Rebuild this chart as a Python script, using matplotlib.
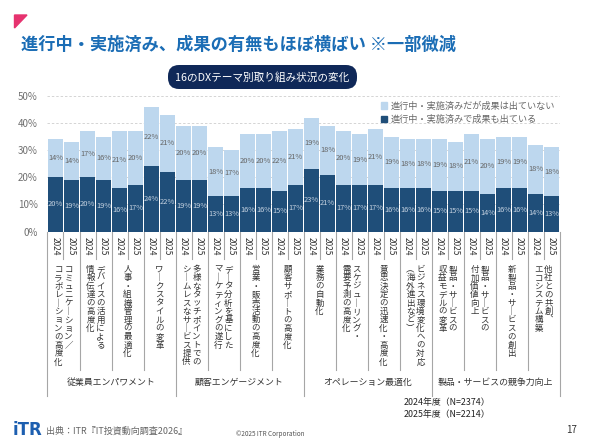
import matplotlib
matplotlib.use('Agg')
import matplotlib.pyplot as plt
import matplotlib.transforms as mtransforms
from matplotlib.patches import FancyBboxPatch, Polygon, Patch
from matplotlib.lines import Line2D

plt.rcParams['font.family'] = ['Noto Sans CJK JP', 'DejaVu Sans']

# ---------------- data ----------------
years = ['2024', '2025']
themes = [
    ['コミュニケーション／', 'コラボレーションの高度化'],
    ['デバイスの活用による', '情報伝達の高度化'],
    ['人事・組織管理の最適化'],
    ['ワークスタイルの変革'],
    ['多様なタッチポイントでの', 'シームレスなサービス提供'],
    ['データ分析を基にした', 'マーケティングの遂行'],
    ['営業・販売活動の高度化'],
    ['顧客サポートの高度化'],
    ['業務の自動化'],
    ['スケジューリング・', '需要予測の高度化'],
    ['意思決定の迅速化・高度化'],
    ['ビジネス環境変化への対応', '（海外進出など）'],
    ['製品・サービスの', '収益モデルの変革'],
    ['製品・サービスの', '付加価値向上'],
    ['新製品・サービスの創出'],
    ['他社との共創、', 'エコシステム構築'],
]
groups = ['従業員エンパワメント', '顧客エンゲージメント', 'オペレーション最適化', '製品・サービスの競争力向上']
group_sizes = [4, 4, 4, 4]

# per bar: theme order, 2024 then 2025
with_results = [20, 19, 20, 19, 16, 17, 24, 22, 19, 19, 13, 13, 16, 16, 15, 17,
                23, 21, 17, 17, 17, 16, 16, 16, 15, 15, 15, 14, 16, 16, 14, 13]
no_results = [14, 14, 17, 16, 21, 20, 22, 21, 20, 20, 18, 17, 20, 20, 22, 21,
              19, 18, 20, 19, 21, 19, 18, 18, 19, 18, 21, 20, 19, 19, 18, 18]
series_names = ['進行中・実施済みだが成果は出ていない', '進行中・実施済みで成果も出ている']
y_ticks = [0, 10, 20, 30, 40, 50]

title = '進行中・実施済み、成果の有無もほぼ横ばい ※一部微減'
subtitle = '16のDXテーマ別取り組み状況の変化'
notes = ['2024年度（N=2374）', '2025年度（N=2214）']
source = '出典：ITR『IT投資動向調査2026』'

# ---------------- style ----------------
DARK = '#1f4e79'
LIGHT = '#bdd7ee'
GRID = '#d4d4d4'
SEP = '#a6a6a6'
W, H = 590, 438

fig = plt.figure(figsize=(W / 100, H / 100), dpi=100)
fig.patch.set_facecolor('white')


def fy(py):
    return 1 - py / H


def fx(px):
    return px / W


ax = fig.add_axes([fx(47.5), fy(231.5), 512 / W, (231.5 - 96) / H])
n = len(with_results)
xs = list(range(n))
ax.bar(xs, with_results, width=0.92, color=DARK, zorder=2)
ax.bar(xs, no_results, bottom=with_results, width=0.92, color=LIGHT, zorder=2)
ax.set_xlim(-0.5, n - 0.5)
ax.set_ylim(0, 50)
ax.set_yticks(y_ticks)
ax.set_yticklabels([f'{v}%' for v in y_ticks], fontsize=7, color='#707070')
ax.tick_params(axis='y', length=0, pad=7)
ax.set_xticks([])
for s in ax.spines.values():
    s.set_visible(False)
ax.yaxis.grid(True, ls=(0, (2.5, 2)), color=GRID, lw=0.7, zorder=0)
ax.set_axisbelow(True)

for i in xs:
    d = with_results[i]
    l = no_results[i]
    ax.text(i, d / 2, f'{d}%', ha='center', va='center', fontsize=5.4,
            color='#c3d0df', zorder=3)
    ax.text(i, d + l / 2, f'{l}%', ha='center', va='center', fontsize=5.4,
            color='#666666', zorder=3)

# legend
handles = [Patch(color=LIGHT), Patch(color=DARK)]
fig.legend(handles, series_names, loc='upper right',
           bbox_to_anchor=(fx(561), fy(95)), frameon=False, fontsize=6.6,
           handlelength=0.7, handleheight=0.7, handletextpad=0.3,
           labelspacing=0.45, labelcolor='#666666', borderpad=0.2)

blend = mtransforms.blended_transform_factory(ax.transData, fig.transFigure)

# category axis: year labels
for i in xs:
    fig.text(i, fy(246), years[i % 2], transform=blend, rotation=270,
             ha='center', va='center', fontsize=6.0, color='#333333')

# separators
y_top = fy(231.5)
group_bounds = [-0.5]
acc = 0
for g in group_sizes:
    acc += g * 2
    group_bounds.append(acc - 0.5)
for k in range(n + 1):
    xb = k - 0.5
    if xb in group_bounds:
        yb = fy(396)
    elif k % 2 == 0:
        yb = fy(370)
    else:
        yb = fy(259)
    fig.add_artist(Line2D([xb, xb], [y_top, yb], transform=blend,
                          color=SEP, lw=0.8))

# vertical (tategaki) theme labels
VERT = {'ー': '｜', '（': '︵', '）': '︶', '、': '︑', '－': '｜'}
pitch = 8.4
colsp = 10.0
for k, lines in enumerate(themes):
    xc = 2 * k + 0.5
    nl = len(lines)
    for j, line in enumerate(lines):
        dx = ((nl - 1) / 2 - j) * colsp
        tr = mtransforms.offset_copy(blend, fig=fig, x=dx, y=0, units='dots')
        for ci, ch in enumerate(line):
            c = VERT.get(ch, ch)
            fig.text(xc, fy(269.5 + ci * pitch), c, transform=tr,
                     ha='center', va='center', fontsize=6.1, color='#333333')

# group labels
start = 0
for g, gs in zip(groups, group_sizes):
    center = start + gs - 0.5
    fig.text(center, fy(382), g, transform=blend, ha='center', va='center',
             fontsize=6.4, color='#333333')
    start += gs * 2

# title area
fig.add_artist(Polygon([(fx(14.5), fy(15)), (fx(27), fy(15)), (fx(14.5), fy(28))],
                       closed=True, color='#e6336f', transform=fig.transFigure))
fig.text(fx(21), fy(45), title, ha='left', va='center', fontsize=12.4,
         fontweight='bold', color='#1b6db5')

pill = FancyBboxPatch((168, H - 89), 189, 24,
                      boxstyle='round,pad=0,rounding_size=11',
                      transform=mtransforms.IdentityTransform(),
                      facecolor='#0f2858', edgecolor='none')
fig.add_artist(pill)
fig.text(fx(262.5), fy(77), subtitle, ha='center', va='center', fontsize=7.7,
         color='white')

# notes
for r, t in enumerate(notes):
    fig.text(fx(490), fy(402 + r * 13), t, ha='right', va='center',
             fontsize=6.4, color='#222222')

# footer
fig.text(fx(13), fy(430), 'iTR', ha='left', va='center', fontsize=12,
         fontweight='bold', color='#1d5fb0', family=['DejaVu Sans'])
fig.text(fx(46), fy(431), source, ha='left', va='center', fontsize=6.5,
         color='#666666')
fig.text(fx(270), fy(434), '©2025 ITR Corporation', ha='center', va='center',
         fontsize=4.6, color='#555555')
fig.text(fx(572), fy(430), '17', ha='center', va='center', fontsize=7,
         color='#333333')

fig.savefig('out.png', dpi=100)
